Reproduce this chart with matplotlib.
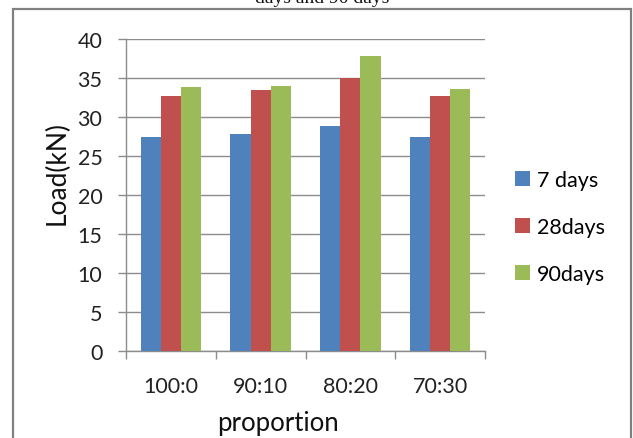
import matplotlib
matplotlib.use("Agg")
import matplotlib.pyplot as plt
from matplotlib.patches import Rectangle
import numpy as np

categories = ["100:0", "90:10", "80:20", "70:30"]
series_names = ["7 days", "28days", "90days"]
days7 = [27.4, 27.8, 28.8, 27.5]
days28 = [32.65, 33.4, 35.0, 32.65]
days90 = [33.9, 34.0, 37.8, 33.6]
colors = ["#4F81BD", "#C0504D", "#9BBB59"]
yticks = [0, 5, 10, 15, 20, 25, 30, 35, 40]

W, H = 633, 439
fig = plt.figure(figsize=(W / 100, H / 100), dpi=100)
plt.rcParams['font.family'] = ['Lato', 'DejaVu Sans']

ax_left, ax_right, ax_top, ax_bot = 126, 485, 40, 352
ax = fig.add_axes([ax_left / W, 1 - ax_bot / H, (ax_right - ax_left) / W, (ax_bot - ax_top) / H])

x = np.arange(len(categories))
bw = 0.225
for i, (vals, c, name) in enumerate(zip([days7, days28, days90], colors, series_names)):
    ax.bar(x + (i - 1) * bw, vals, width=bw, color=c, label=name, zorder=3)

ax.set_xlim(-0.5, len(categories) - 0.5)
ax.set_ylim(0, 40)
ax.set_yticks(yticks)
ax.set_yticklabels([str(t) for t in yticks], fontsize=15.5, color="#222222")
ax.set_xticks(x)
ax.set_xticklabels(categories, fontsize=15.5, color="#222222")
ax.set_xticks(np.arange(len(categories) + 1) - 0.5, minor=True)
ax.tick_params(axis='x', which='major', length=0, pad=18)
ax.tick_params(axis='x', which='minor', length=6, color="#8c8c8c", width=1)
ax.tick_params(axis='y', length=6, color="#8c8c8c", width=1, pad=11)
ax.grid(axis='y', color="#8c8c8c", linewidth=1, zorder=0)
for s in ['top', 'right']:
    ax.spines[s].set_visible(False)
for s in ['left', 'bottom']:
    ax.spines[s].set_color("#8c8c8c")
    ax.spines[s].set_linewidth(1)

aw, ah = ax_right - ax_left, ax_bot - ax_top
ax.set_ylabel("Load(kN)", fontsize=19, color="#111111")
ax.yaxis.set_label_coords((70 - ax_left) / aw, (ax_bot - 173) / ah)
ax.set_xlabel("proportion", fontsize=18.5, color="#111111")
ax.xaxis.set_label_coords((278 - ax_left) / aw, (ax_bot - 411) / ah)

fig.legend(loc='upper left', bbox_to_anchor=(515 / W, 1 - 171 / H), frameon=False,
           fontsize=15.5, handlelength=0.68, handleheight=0.68, labelspacing=1.26,
           handletextpad=0.35, borderpad=0, borderaxespad=0)

fig.text(322 / W, 1 - 3 / H, "days and 90 days", ha='center', va='baseline',
         fontsize=14, family='Liberation Serif', color="#111111")

fig.patches.append(Rectangle((13 / W, -0.05), (631 - 13) / W, 1 - 10 / H + 0.05,
                             transform=fig.transFigure, fill=False,
                             edgecolor="#808080", linewidth=1.6))

fig.savefig("out.png", dpi=100)
